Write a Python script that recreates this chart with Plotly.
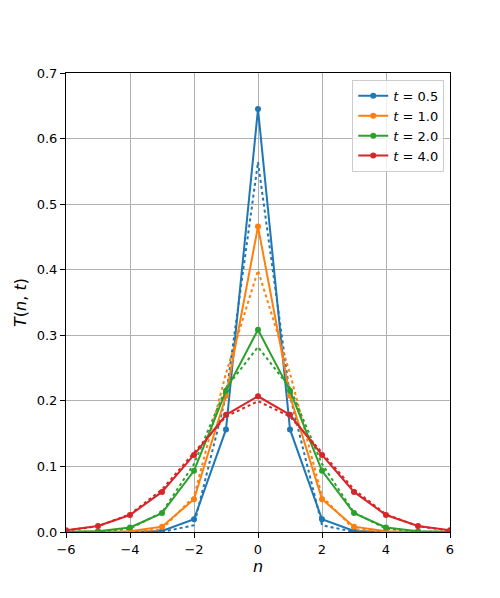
import plotly.graph_objects as go

n_values = list(range(-6, 7))
t_labels = ["0.5", "1.0", "2.0", "4.0"]
colors = ["#1f77b4", "#ff7f0e", "#2ca02c", "#d62728"]

# discrete kernel values for n = 0..6 (symmetric)
half_t05 = [0.6450, 0.1564, 0.01935, 0.00160, 0.0001, 0.0, 0.0]
half_t10 = [0.4658, 0.2079, 0.04994, 0.00816, 0.00101, 0.0001, 0.0]
half_t20 = [0.3085, 0.2153, 0.09324, 0.02879, 0.00687, 0.00133, 0.00022]
half_t40 = [0.2070, 0.1788, 0.1176, 0.06112, 0.02594, 0.00924, 0.00283]

# gaussian approximation values for n = 0..6 (dotted)
gauss_t05 = [0.5642, 0.2076, 0.01033, 0.00007, 0.0, 0.0, 0.0]
gauss_t10 = [0.3989, 0.2420, 0.05399, 0.00443, 0.00013, 0.0, 0.0]
gauss_t20 = [0.2821, 0.2197, 0.1038, 0.02972, 0.00517, 0.00055, 0.00003]
gauss_t40 = [0.1995, 0.1760, 0.1210, 0.06476, 0.02700, 0.00876, 0.00222]


def mirror(h):
    return h[:0:-1] + h


solid = [half_t05, half_t10, half_t20, half_t40]
dotted = [gauss_t05, gauss_t10, gauss_t20, gauss_t40]

fig = go.Figure()
for lab, col, s, d in zip(t_labels, colors, solid, dotted):
    fig.add_trace(go.Scatter(
        x=n_values, y=mirror(s), mode="lines+markers",
        line=dict(color=col, width=2), marker=dict(color=col, size=6),
        name=f"<i>t</i> = {lab}"))
    fig.add_trace(go.Scatter(
        x=n_values, y=mirror(d), mode="lines",
        line=dict(color=col, width=2, dash="dot"), showlegend=False))

axis_common = dict(
    showline=True, linecolor="black", linewidth=1, mirror=True,
    ticks="outside", ticklen=5, tickcolor="black",
    showgrid=True, gridcolor="#b0b0b0", gridwidth=1, zeroline=False,
    tickfont=dict(family="DejaVu Sans", size=13, color="black"),
)

fig.update_layout(
    width=500, height=598,
    margin=dict(l=54, r=58, t=65, b=74),
    plot_bgcolor="white", paper_bgcolor="white",
    font=dict(family="DejaVu Sans", size=13, color="black"),
    xaxis=dict(range=[-6, 6], tickvals=[-6, -4, -2, 0, 2, 4, 6],
               ticktext=["\u22126", "\u22124", "\u22122", "0", "2", "4", "6"],
               title=dict(text="<i>n</i>", standoff=4), **axis_common),
    yaxis=dict(range=[0, 0.7], tickvals=[0, 0.1, 0.2, 0.3, 0.4, 0.5, 0.6, 0.7],
               tickformat=".1f",
               title=dict(text="<i>T</i>(<i>n</i>, <i>t</i>)", standoff=6), **axis_common),
    legend=dict(x=0.985, y=0.985, xanchor="right", yanchor="top",
                bgcolor="rgba(255,255,255,0.8)", bordercolor="#cccccc", borderwidth=1,
                font=dict(family="DejaVu Sans", size=13)),
)

fig.write_html("out.html")
